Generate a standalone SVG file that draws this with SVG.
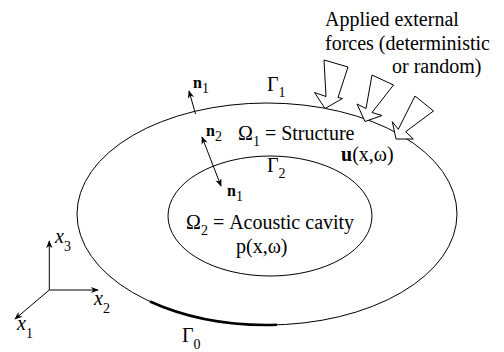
<svg xmlns="http://www.w3.org/2000/svg" width="504" height="352" viewBox="0 0 504 352">
<style>
.t{font-family:"Liberation Serif","Times New Roman",serif;font-size:20px;fill:#000}
.s{font-size:14px}
.b{font-weight:bold}
.i{font-style:italic}
.ln{fill:none;stroke:#000;stroke-width:1}
.force{fill:#fff;stroke:#000;stroke-width:1;stroke-linejoin:miter}
</style>
<defs>
<marker id="ah" viewBox="0 0 10 10" refX="9" refY="5" markerWidth="8" markerHeight="8" markerUnits="userSpaceOnUse" orient="auto-start-reverse">
<path d="M0,1 L10,5 L0,9 L3,5 Z" fill="#000"/>
</marker>
</defs>
<g id="outer-domain">
<ellipse class="ln" cx="267" cy="214" rx="190" ry="111"/>
<path d="M150,301.5 A190,111 0 0 0 277,324.8" fill="none" stroke="#000" stroke-width="2.6"/>
</g>
<g id="inner-domain">
<ellipse class="ln" cx="270" cy="216" rx="102" ry="60"/>
</g>
<g id="forces">
<polygon class="force" points="324,60 348,67 338,97.5 342.5,98.5 325,108.5 314.5,92.5 326,96.5"/>
<polygon class="force" points="372,75 393.5,85 372,112.5 382,115.5 365,121.5 357,104 366,108.5"/>
<polygon class="force" points="415,96 433.5,111 405.7,131.7 413.3,139 396,139 392.3,121.7 398.3,129.3"/>
<text class="t" x="325" y="26">Applied external</text>
<text class="t" x="325" y="50">forces (deterministic</text>
<text class="t" x="392" y="73">or random)</text>
</g>
<g id="connectors">
<line class="ln" x1="195.5" y1="114" x2="189" y2="91" marker-end="url(#ah)"/>
<line class="ln" x1="202" y1="137" x2="221" y2="186" marker-start="url(#ah)" marker-end="url(#ah)"/>
<line class="ln" x1="49.3" y1="290" x2="49.3" y2="241" marker-end="url(#ah)"/>
<line class="ln" x1="49.3" y1="290" x2="98" y2="290" marker-end="url(#ah)"/>
<line class="ln" x1="49.3" y1="290" x2="15" y2="319" marker-end="url(#ah)"/>
</g>
<g id="labels">
<text class="t" x="193" y="88"><tspan class="b" font-size="16">n</tspan><tspan class="s" dy="5">1</tspan></text>
<text class="t" x="267" y="91">Γ<tspan class="s" dy="6">1</tspan></text>
<text class="t" x="206" y="136"><tspan class="b" font-size="16">n</tspan><tspan class="s" dy="5">2</tspan></text>
<text class="t" x="238" y="140">Ω<tspan class="s" dy="6">1</tspan><tspan dy="-6"> = Structure</tspan></text>
<text class="t" x="341" y="161"><tspan class="b">u</tspan>(x,ω)</text>
<text class="t" x="267" y="172">Γ<tspan class="s" dy="6">2</tspan></text>
<text class="t" x="227" y="196"><tspan class="b" font-size="16">n</tspan><tspan class="s" dy="5">1</tspan></text>
<text class="t" x="186" y="229">Ω<tspan class="s" dy="6">2</tspan><tspan dy="-6"> = Acoustic cavity</tspan></text>
<text class="t" x="236" y="253">p(x,ω)</text>
<text class="t" x="182" y="342">Γ<tspan class="s" dy="7">0</tspan></text>
</g>
<g id="axes-labels">
<text class="t i" x="55" y="243">x<tspan class="s" font-style="normal" dy="8">3</tspan></text>
<text class="t i" x="94" y="305">x<tspan class="s" font-style="normal" dy="8">2</tspan></text>
<text class="t i" x="17" y="330">x<tspan class="s" font-style="normal" dy="8">1</tspan></text>
</g>
</svg>
